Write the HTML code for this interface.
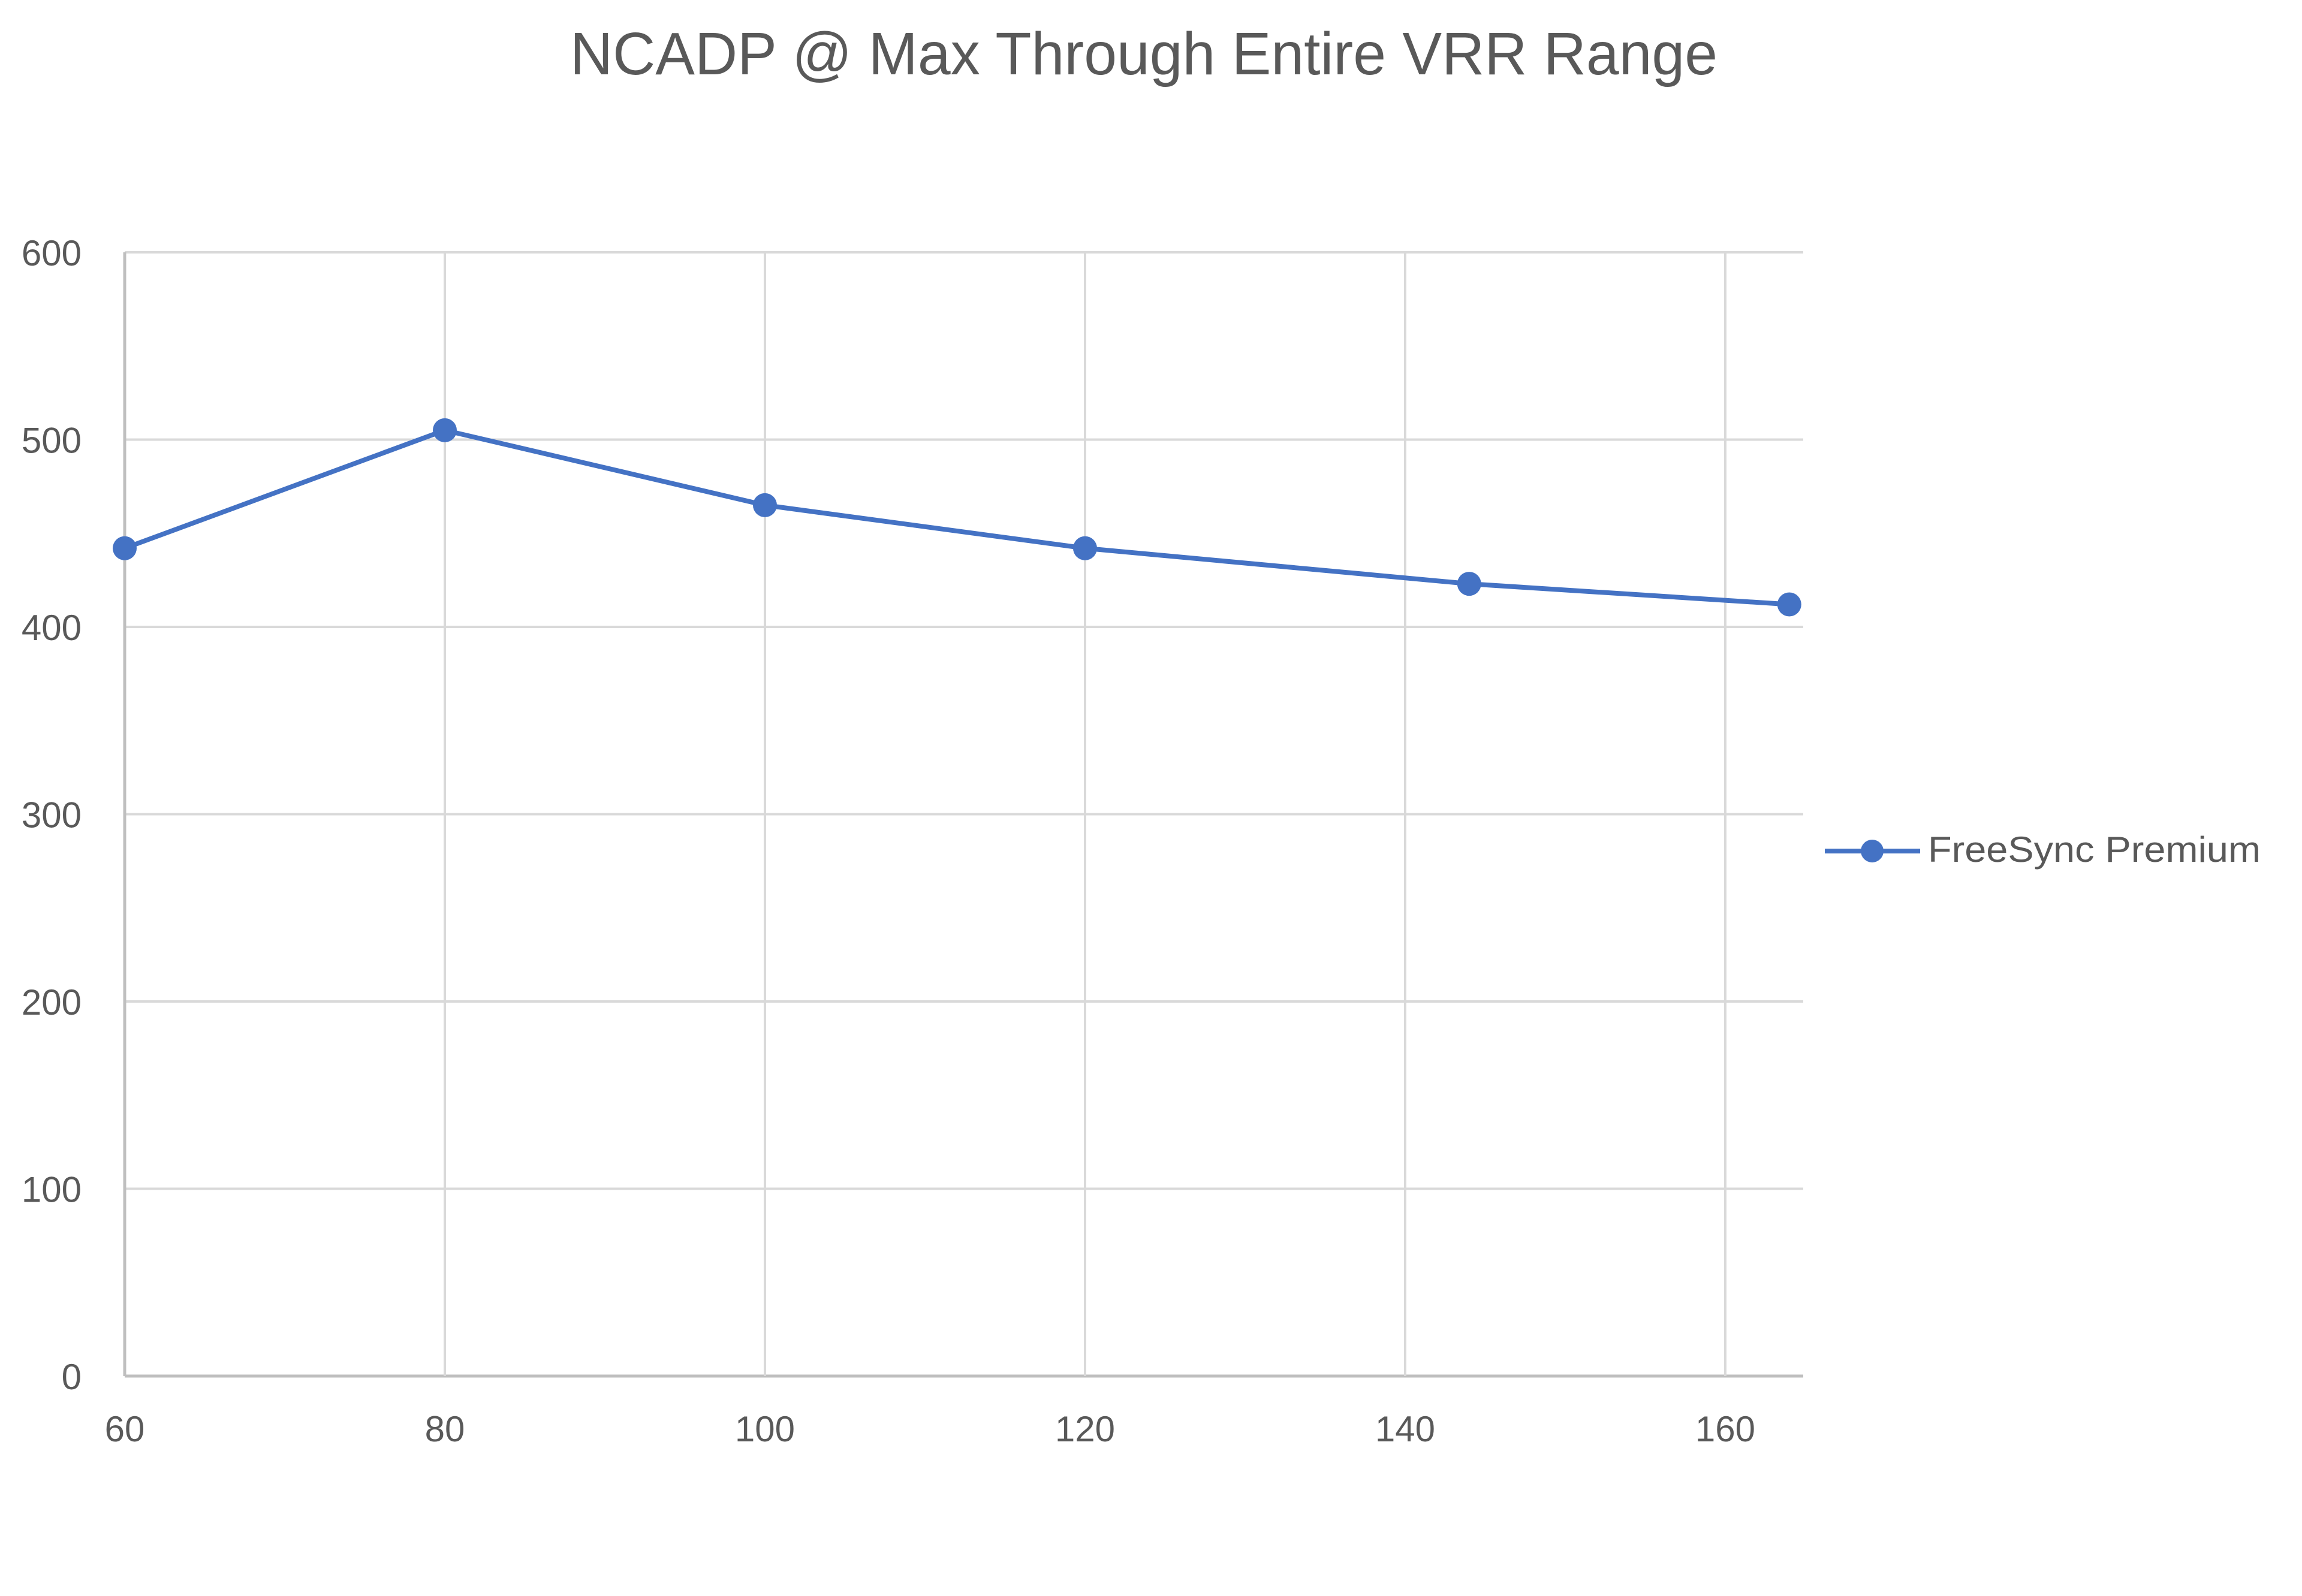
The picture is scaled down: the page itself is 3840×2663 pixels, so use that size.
<!DOCTYPE html>
<html><head><meta charset="utf-8"><style>
html,body{margin:0;padding:0;background:#fff;}
svg{display:block;font-family:"Liberation Sans",sans-serif;}
</style></head><body>
<svg id="chart" width="3840" height="2663" viewBox="0 0 3840 2663">
<rect width="3840" height="2663" fill="#fff"/>
<text x="1908" y="124" text-anchor="middle" font-size="100" fill="#595959" textLength="1914" lengthAdjust="spacingAndGlyphs">NCADP @ Max Through Entire VRR Range</text>
<g id="grid"></g><g id="series"></g>
<g>
<line x1="3044" y1="1420" x2="3203" y2="1420" stroke="#4472C4" stroke-width="8"/>
<circle cx="3123" cy="1420" r="19" fill="#4472C4"/>
<text x="3216" y="1438" font-size="60" fill="#595959" textLength="555" lengthAdjust="spacingAndGlyphs">FreeSync Premium</text>
</g>
</svg>
<script>
const xValues = [60, 80, 100, 120, 144, 164];
const yValues = [442, 505, 465, 442, 423, 412];
const xTicks = [60, 80, 100, 120, 140, 160];
const yTicks = [0, 100, 200, 300, 400, 500, 600];
const NS = "http://www.w3.org/2000/svg";
const L = 208, R = 3008, T = 421, B = 2296;
const xMin = 60, xMax = 164.87, yMin = 0, yMax = 600;
function sx(v){ return L + (v - xMin) / (xMax - xMin) * (R - L); }
function sy(v){ return B - (v - yMin) / (yMax - yMin) * (B - T); }
function mk(tag, attrs, parent){ const e = document.createElementNS(NS, tag); for (const k in attrs) e.setAttribute(k, attrs[k]); parent.appendChild(e); return e; }
const grid = document.getElementById('grid');
const series = document.getElementById('series');
yTicks.forEach(t => {
  const ln = mk('line', {x1: L, x2: R, y1: sy(t), y2: sy(t), stroke: t === 0 ? '#bfbfbf' : '#d9d9d9', 'stroke-width': t === 0 ? 5 : 4}, grid);
  
  
  const tx = mk('text', {x: 136, y: sy(t) + 22, 'text-anchor': 'end', 'font-size': 60, fill: '#595959'}, grid);
  tx.textContent = t;
  
  
});
xTicks.forEach(t => {
  const ln = mk('line', {x1: sx(t), x2: sx(t), y1: T, y2: B, stroke: t === 60 ? '#bfbfbf' : '#d9d9d9', 'stroke-width': t === 60 ? 5 : 4}, grid);
  
  
  const tx = mk('text', {x: sx(t), y: 2405, 'text-anchor': 'middle', 'font-size': 60, fill: '#595959'}, grid);
  tx.textContent = t;
  
  
});
const pts = xValues.map((x, i) => sx(x) + ',' + sy(yValues[i])).join(' ');
const pl = mk('polyline', {points: pts, fill: 'none', stroke: '#4472C4', 'stroke-width': 8, 'stroke-linejoin': 'round'}, series);


xValues.forEach((x, i) => {
  const c = mk('circle', {cx: sx(x), cy: sy(yValues[i]), r: 20, fill: '#4472C4'}, series);
  
  
});
</script>
</body></html>
